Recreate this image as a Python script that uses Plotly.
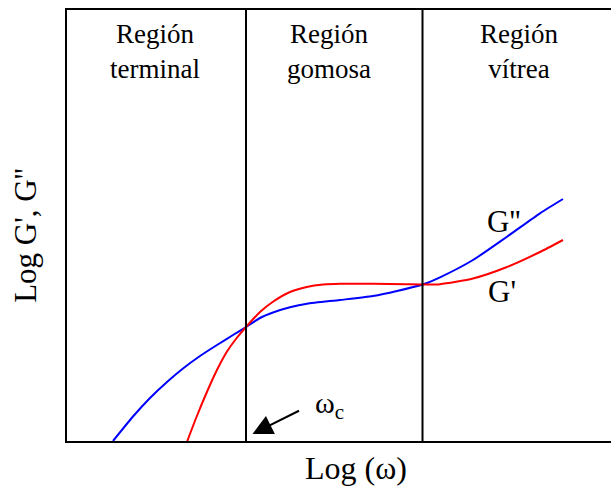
import plotly.graph_objects as go

# Log(omega) positions (arbitrary units) and log-modulus readings for each curve
log_w_g2 = [46, 66, 83, 100, 116, 133, 150, 166, 179, 193, 206, 223, 240,
            273, 306, 330, 355.5, 373, 406, 440, 473, 496]
log_g2 = [0, 24.5, 43, 59, 72.5, 85, 96, 106, 114, 123, 128.5, 133.7, 137.3,
          141, 145, 150, 156.5, 163.7, 181, 204.3, 227.7, 242]

log_w_g1 = [120.3, 129.7, 139.7, 149.7, 159.7, 169.7, 179, 193, 206.3, 223, 239.7, 256.3,
            273, 306, 339.7, 355.5, 373, 406, 440, 473, 496]
log_g1 = [0, 24.5, 48.5, 70.5, 89, 103, 114, 129, 139.5, 149, 154, 156.5,
          157.3, 157.2, 156.7, 156.5, 156.8, 162.5, 174, 189, 201]

# Boundaries between the viscoelastic regions
region_bounds = [179, 355.5]
region_labels = ["Región<br>terminal", "Región<br>gomosa", "Región<br>vítrea"]
region_centers = [88, 262, 452]

# Crossover frequency marked at the bottom of the first boundary
crossover = (185.5, 7)

FONT = "Liberation Serif"
X_RANGE = [0, 544]
Y_RANGE = [0, 431]

fig = go.Figure()
fig.add_trace(go.Scatter(x=log_w_g2, y=log_g2, mode="lines",
                         line=dict(color="#0000ff", width=2, shape="spline", smoothing=0.6),
                         name="G''", showlegend=False))
fig.add_trace(go.Scatter(x=log_w_g1, y=log_g1, mode="lines",
                         line=dict(color="#ff0000", width=2, shape="spline", smoothing=0.6),
                         name="G'", showlegend=False))

for xb in region_bounds:
    fig.add_shape(type="line", x0=xb, x1=xb, y0=0, y1=1, xref="x", yref="paper",
                  line=dict(color="black", width=2))

annotations = []
for label, xc in zip(region_labels, region_centers):
    annotations.append(dict(x=xc, y=1, xref="x", yref="paper", yshift=-7, text=label, showarrow=False,
                            yanchor="top", font=dict(family=FONT, size=27, color="black"),
                            align="center"))

annotations += [
    dict(x=436.5, y=220, xref="x", yref="y", text="G''", showarrow=False,
         font=dict(family=FONT, size=31, color="black")),
    dict(x=434.5, y=149.5, xref="x", yref="y", text="G'", showarrow=False,
         font=dict(family=FONT, size=31, color="black")),
    dict(x=262, y=36, xref="x", yref="y", text="ω<sub>c</sub>", showarrow=False,
         font=dict(family=FONT, size=30, color="black")),
    dict(x=crossover[0], y=crossover[1], xref="x", yref="y", text="", showarrow=True, ax=48, ay=-24,
         arrowhead=2, arrowsize=2, arrowwidth=2, arrowcolor="black"),
    dict(x=-41 / 544, y=0.476, xref="paper", yref="paper", text="Log G', G''", showarrow=False,
         textangle=-90, xanchor="center", yanchor="middle",
         font=dict(family=FONT, size=31, color="black")),
    dict(x=289 / 544, y=-27 / 431, xref="paper", yref="paper", text="Log (ω)", showarrow=False,
         xanchor="center", yanchor="middle",
         font=dict(family=FONT, size=32, color="black")),
]

fig.update_layout(
    width=611, height=486,
    margin=dict(l=67, r=0, t=10, b=45),
    plot_bgcolor="white", paper_bgcolor="white",
    annotations=annotations,
    xaxis=dict(range=X_RANGE, showline=True, mirror=True, linecolor="black", linewidth=2,
               showgrid=False, zeroline=False, showticklabels=False, ticks=""),
    yaxis=dict(range=Y_RANGE, showline=True, mirror=False, linecolor="black", linewidth=2,
               showgrid=False, zeroline=False, showticklabels=False, ticks=""),
)

fig.write_html("out.html")
